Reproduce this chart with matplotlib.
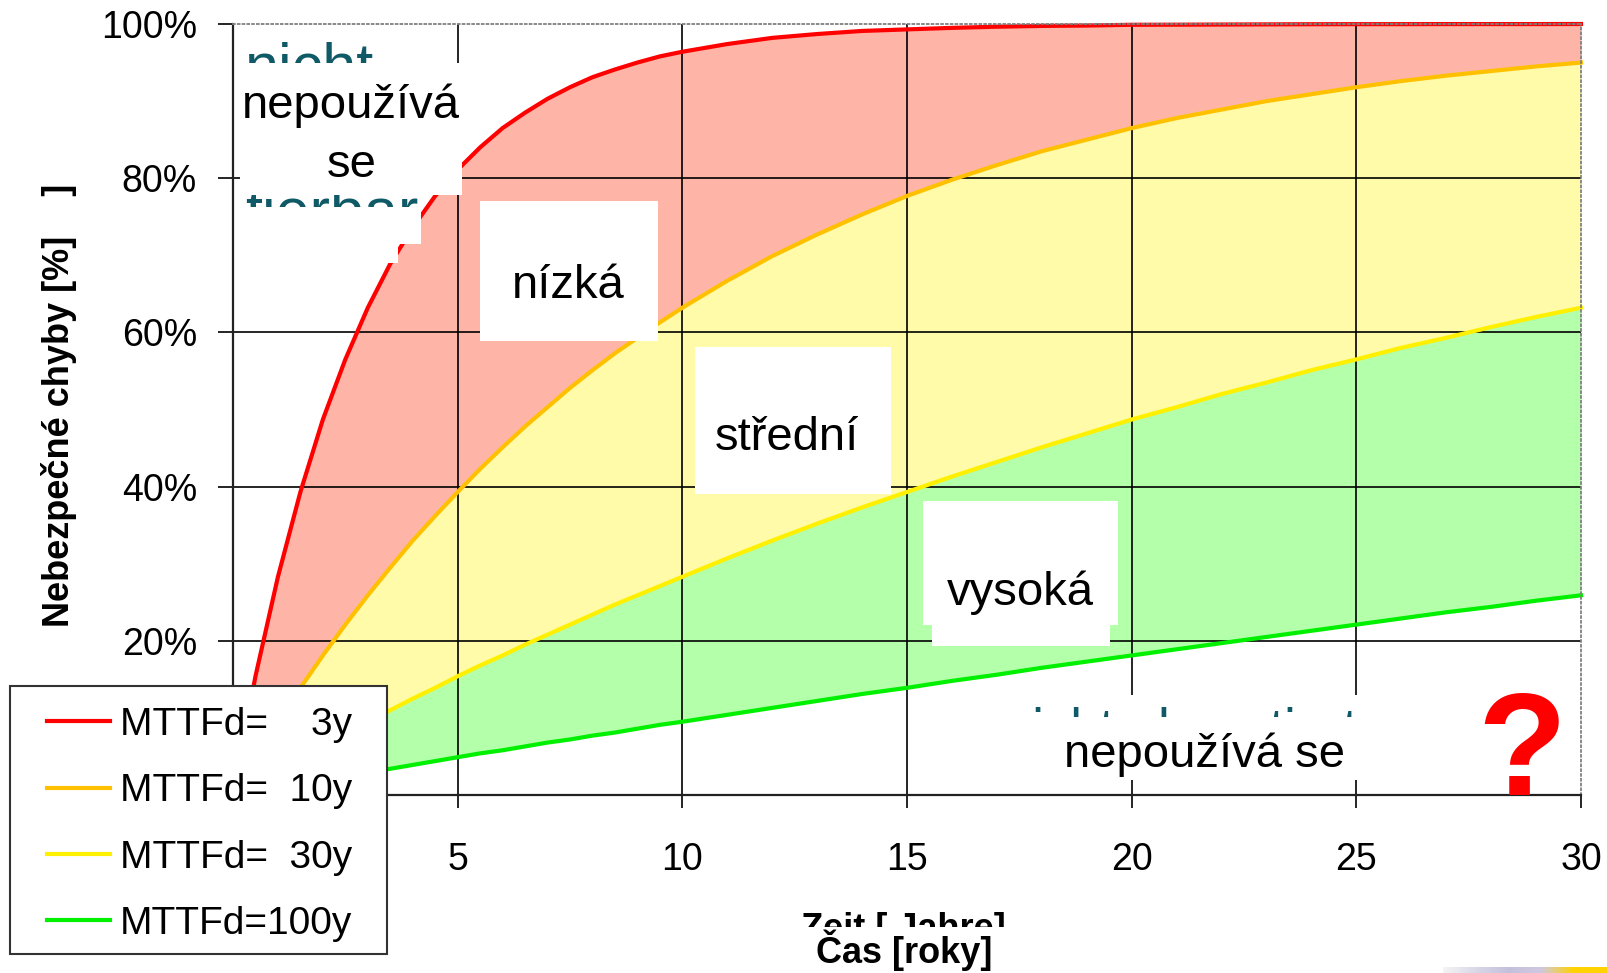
import matplotlib.pyplot as plt
from matplotlib.patches import Rectangle
from matplotlib.ticker import PercentFormatter
from matplotlib.colors import LinearSegmentedColormap
import numpy as np

plt.rcParams['font.family'] = ['Liberation Sans', 'DejaVu Sans']

# values (probability of dangerous failure in %)
years = [0, 0.5, 1, 1.5, 2, 2.5, 3, 3.5, 4, 4.5, 5, 5.5, 6, 6.5, 7, 7.5, 8, 8.5, 9, 9.5, 10,
         11, 12, 13, 14, 15, 16, 17, 18, 19, 20, 21, 22, 23, 24, 25, 26, 27, 28, 29, 30]
mttfd_3 = [0, 15.4, 28.3, 39.3, 48.7, 56.5, 63.2, 68.9, 73.6, 77.7, 81.1, 84.0, 86.5, 88.5,
           90.3, 91.8, 93.1, 94.1, 95.0, 95.8, 96.4,
           97.4, 98.2, 98.7, 99.1, 99.3, 99.5, 99.65, 99.75, 99.8, 99.9, 99.91, 99.93, 99.95,
           99.97, 99.98, 99.98, 99.99, 99.99, 99.99, 100]
mttfd_10 = [0, 4.9, 9.5, 13.9, 18.1, 22.1, 25.9, 29.5, 33.0, 36.2, 39.3, 42.3, 45.1, 47.8,
            50.3, 52.8, 55.1, 57.3, 59.3, 61.3, 63.2,
            66.7, 69.9, 72.7, 75.3, 77.7, 79.8, 81.7, 83.5, 85.0, 86.5, 87.8, 88.9, 90.0,
            90.9, 91.8, 92.6, 93.3, 93.9, 94.5, 95.0]
mttfd_30 = [0, 1.65, 3.3, 4.9, 6.4, 8.0, 9.5, 11.0, 12.5, 13.9, 15.4, 16.8, 18.1, 19.5,
            20.8, 22.1, 23.4, 24.7, 25.9, 27.1, 28.3,
            30.7, 33.0, 35.2, 37.3, 39.3, 41.3, 43.2, 45.1, 46.9, 48.7, 50.3, 52.0, 53.5,
            55.1, 56.5, 58.0, 59.3, 60.7, 62.0, 63.2]
mttfd_100 = [0, 0.5, 1.0, 1.5, 2.0, 2.5, 3.0, 3.4, 3.9, 4.4, 4.9, 5.4, 5.8, 6.3,
             6.8, 7.2, 7.7, 8.1, 8.6, 9.1, 9.5,
             10.4, 11.3, 12.2, 13.1, 13.9, 14.8, 15.6, 16.5, 17.3, 18.1, 18.9, 19.7, 20.5,
             21.3, 22.1, 22.9, 23.7, 24.4, 25.2, 25.9]

series_labels = ['MTTFd=    3y', 'MTTFd=  10y', 'MTTFd=  30y', 'MTTFd=100y']
x_ticks = [0, 5, 10, 15, 20, 25, 30]
y_ticks = [0, 20, 40, 60, 80, 100]

fig = plt.figure(figsize=(16.07, 9.73), dpi=100)
ax = fig.add_axes([0.14499, 0.18294, 0.83883, 0.79239])

# coloured bands between the curves
ax.fill_between(years, mttfd_3, mttfd_10, color='#FFB4A8', lw=0, zorder=0.2)
ax.fill_between(years, mttfd_10, mttfd_30, color='#FFFBA8', lw=0, zorder=0.2)
ax.fill_between(years, mttfd_30, mttfd_100, color='#B4FFAA', lw=0, zorder=0.2)

# interior grid
for v in x_ticks[1:-1]:
    ax.axvline(v, color='black', lw=1.2, zorder=1)
for v in y_ticks[1:-1]:
    ax.axhline(v, color='black', lw=1.2, zorder=1)

ax.plot(years, mttfd_3, color='#FF0000', lw=3, label=series_labels[0], zorder=2, clip_on=False)
ax.plot(years, mttfd_10, color='#FFC000', lw=3, label=series_labels[1], zorder=2, clip_on=False)
ax.plot(years, mttfd_30, color='#FFF000', lw=3, label=series_labels[2], zorder=2, clip_on=False)
ax.plot(years, mttfd_100, color='#00F000', lw=3, label=series_labels[3], zorder=2, clip_on=False)

ax.set_xlim(0, 30)
ax.set_ylim(0, 100)
ax.set_xticks(x_ticks)
ax.set_yticks(y_ticks)
ax.yaxis.set_major_formatter(PercentFormatter(decimals=0))
ax.tick_params(axis='y', length=11, width=1.2, pad=15, labelsize=27, direction='out')
ax.tick_params(axis='x', length=9.5, width=1.2, pad=24, labelsize=27, direction='out')
for s in ['top', 'right']:
    ax.spines[s].set(color='#808080', linestyle=':', lw=1.3)
for s in ['left', 'bottom']:
    ax.spines[s].set(color='#222222', lw=1.6)

teal = '#0F5A66'


def white_box(x0, x1, y0, y1, z=3):
    ax.add_patch(Rectangle((x0, y0), x1 - x0, y1 - y0, facecolor='white',
                           edgecolor='none', zorder=z, clip_on=False))


# leftover German labels, mostly covered by the Czech boxes
ax.text(0.27, 92.0, 'nicht', color=teal, fontsize=44, zorder=2.8)
ax.text(0.27, 73.2, 'tierbar', color=teal, fontsize=44, zorder=2.8)
white_box(17.07, 25.13, 1.95, 12.97, z=2.7)
ax.text(17.14, 6.35, 'nicht akzeptiert', color=teal, fontsize=38, zorder=2.8)

# white label boxes
white_box(0.16, 5.10, 77.8, 94.9)
white_box(0.16, 4.18, 71.5, 76.3)
white_box(0.16, 3.67, 69.0, 71.5)
white_box(5.50, 9.46, 58.9, 77.0)
white_box(10.28, 14.65, 39.0, 58.1)
white_box(15.36, 19.70, 22.05, 38.1)
white_box(15.56, 19.52, 19.3, 22.05)
white_box(17.07, 25.13, 1.95, 10.12)

lab = dict(fontsize=34, ha='center', va='baseline', zorder=4)
ax.text(2.63, 87.8, 'nepoužívá', **lab)
ax.text(2.63, 80.2, 'se', **lab)
ax.text(7.46, 64.5, 'nízká', **lab)
ax.text(12.33, 44.75, 'střední', **lab)
ax.text(17.52, 24.6, 'vysoká', **lab)
ax.text(21.63, 3.63, 'nepoužívá se', **lab)
ax.text(28.69, 0, '?', color='#FF0000', fontsize=105, fontweight='bold',
        ha='center', va='baseline', zorder=4, clip_on=False)

# legend with its own square frame
ax.add_patch(Rectangle((10 / 1607, 1 - 954 / 973), 377 / 1607, 268 / 973,
                       transform=fig.transFigure, facecolor='white', edgecolor='#333333',
                       lw=1.5, clip_on=False, zorder=4.9))
ax.legend(loc='upper left', bbox_to_anchor=(47 / 1607, 1 - 707 / 973),
          bbox_transform=fig.transFigure, frameon=False, fontsize=28,
          borderpad=0, borderaxespad=0, handlelength=1.62, handletextpad=0.26,
          labelspacing=0.78)

# axis titles
fig.text(59 / 1607, 1 - 405 / 973, 'Nebezpečné chyby [%]    ]', rotation=90,
         ha='center', va='center', fontsize=26, fontweight='bold')
fig.text(903 / 1607, 1 - 939 / 973, 'Zeit [ Jahre]', ha='center', va='baseline',
         fontsize=26, fontweight='bold', zorder=3)
fig.add_artist(Rectangle((700 / 1607, 0), 400 / 1607, 1 - 927 / 973,
                         transform=fig.transFigure, facecolor='white',
                         edgecolor='none', zorder=3.5))
fig.text(904 / 1607, 1 - 963 / 973, 'Čas [roky]', ha='center', va='baseline',
         fontsize=26, fontweight='bold', zorder=4)

# thin slide decoration strip in the bottom right corner
strip = fig.add_axes([1443 / 1607, 0, 164 / 1607, 6 / 973])
cmap = LinearSegmentedColormap.from_list(
    'strip', ['#F4F4F4', '#D8D8E8', '#C4C0DC', '#D0C8E0', '#FFD200', '#FFD200'])
strip.imshow(np.linspace(0, 1, 200)[None, :], cmap=cmap, aspect='auto')
strip.axis('off')

fig.savefig('out.png', dpi=100)
